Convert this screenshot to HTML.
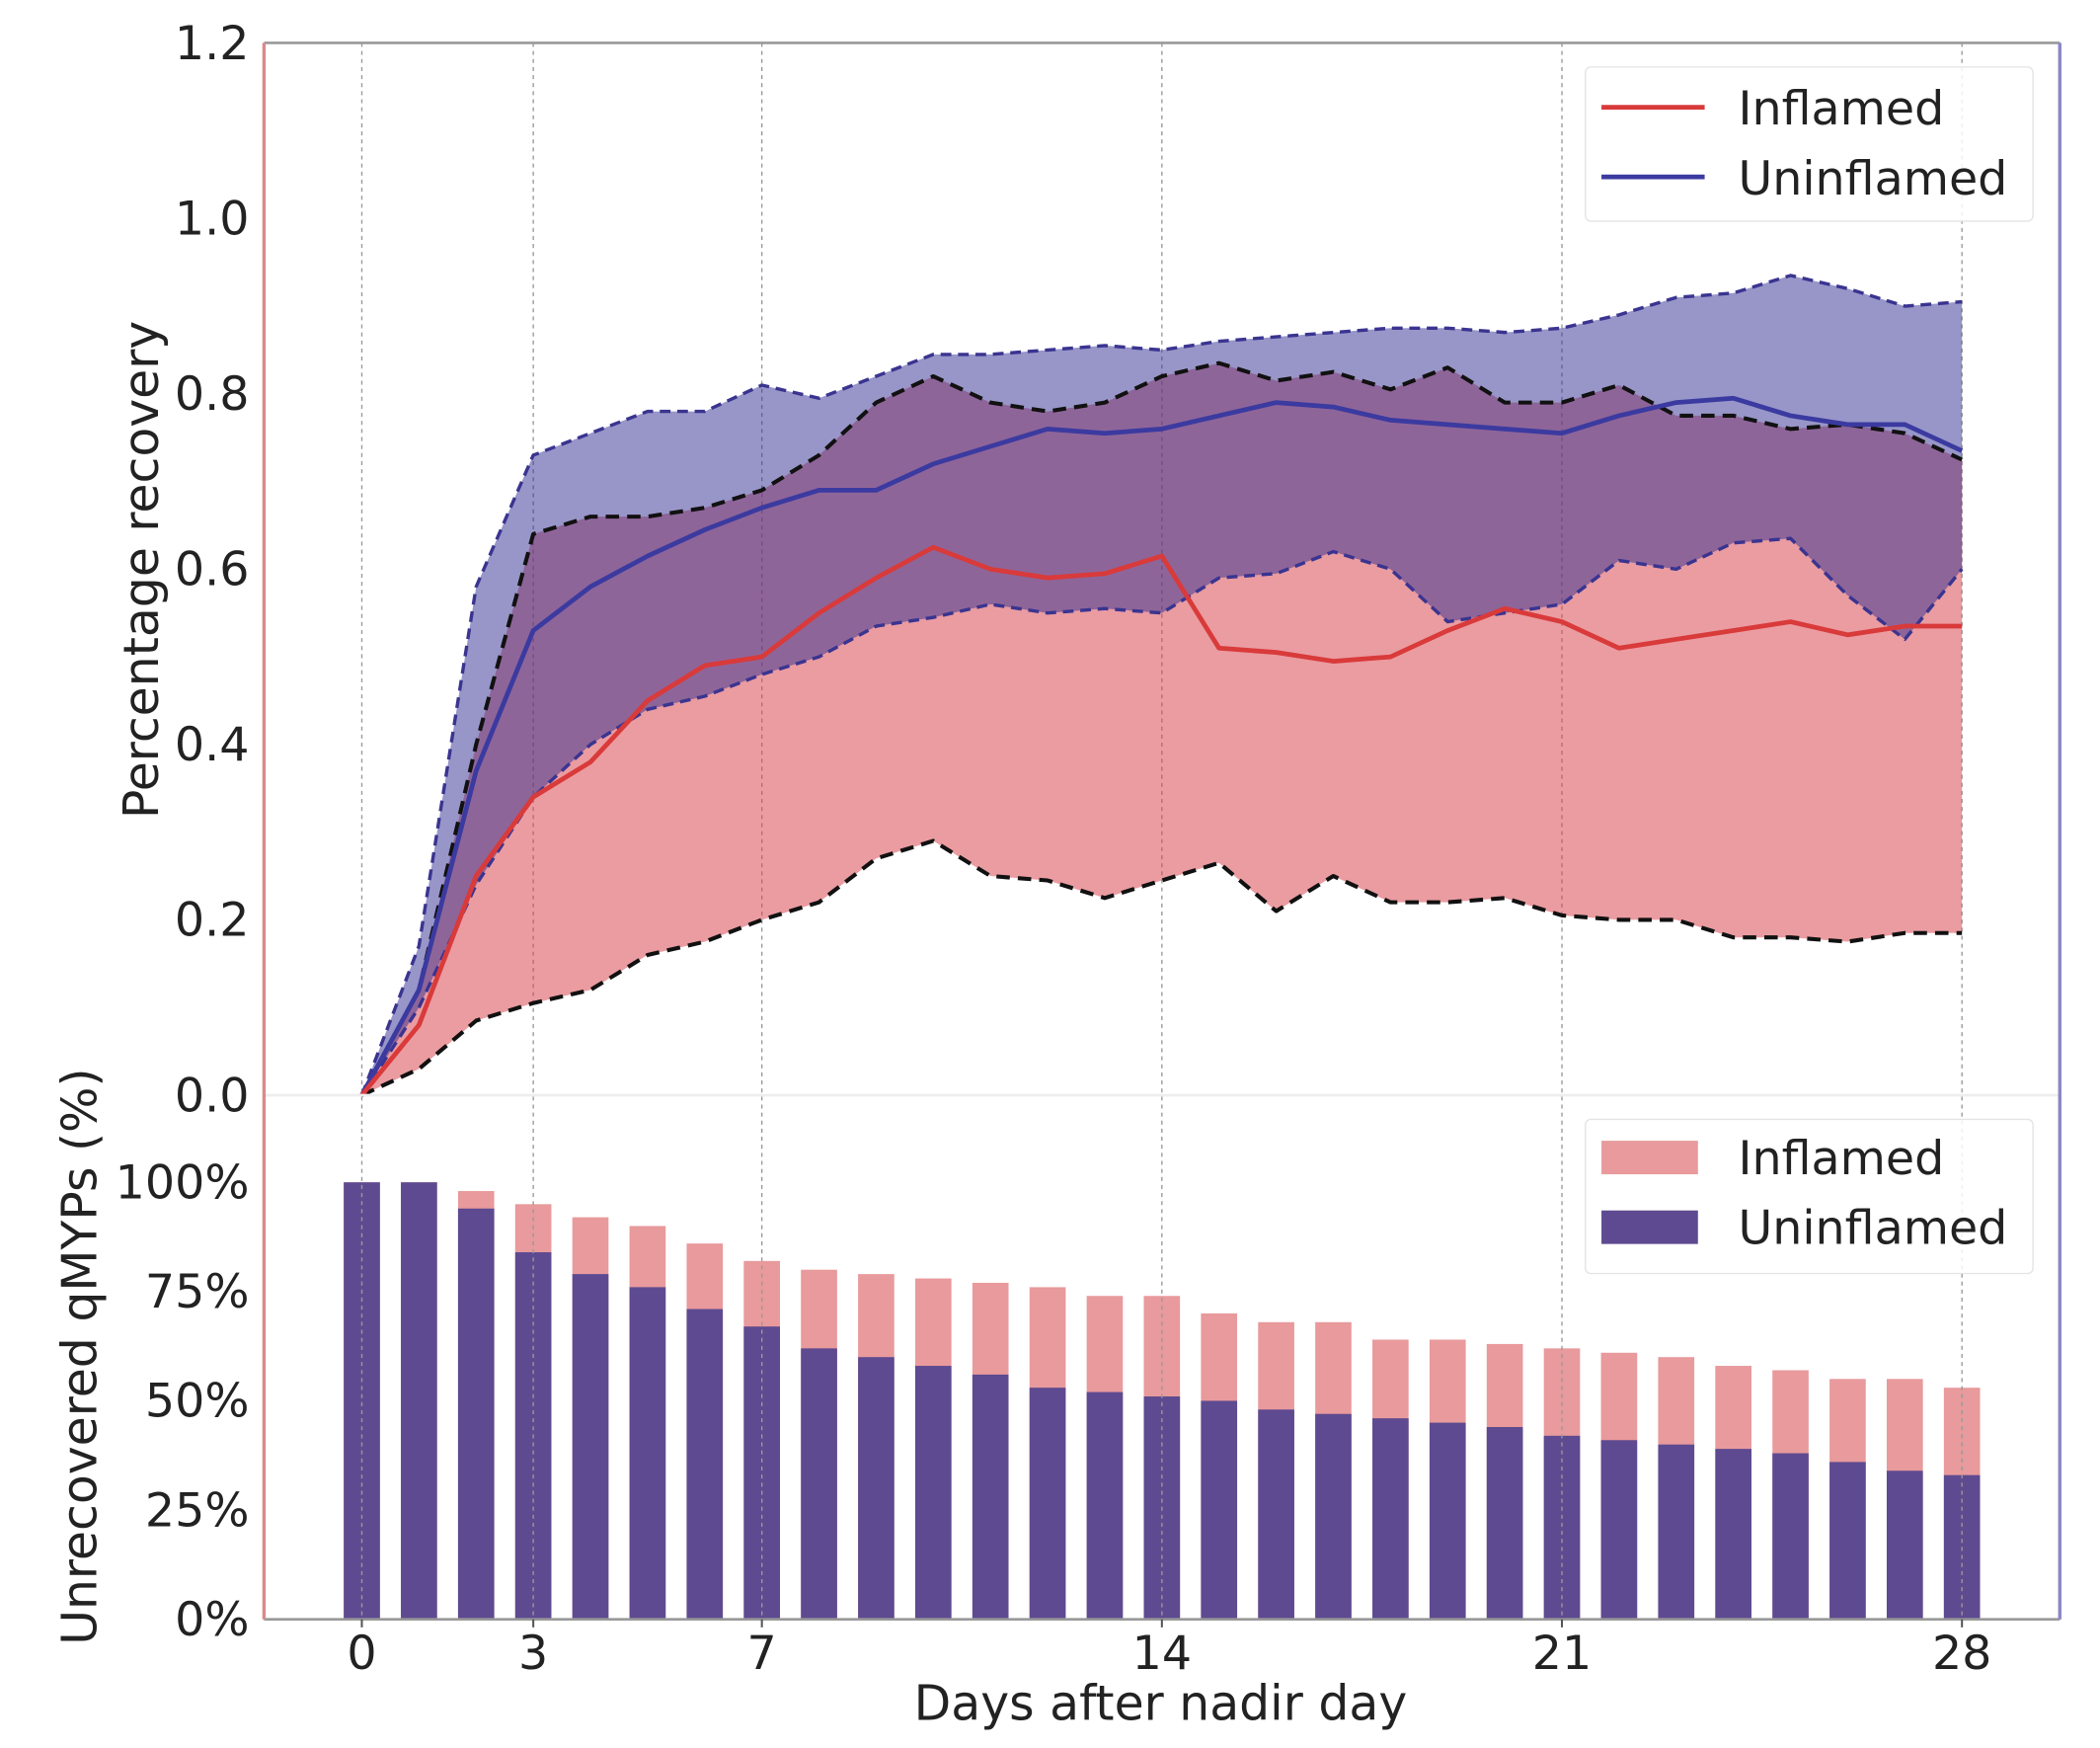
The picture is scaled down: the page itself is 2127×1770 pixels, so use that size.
<!DOCTYPE html>
<html><head><meta charset="utf-8"><style>
html,body{margin:0;padding:0;background:#fff}
svg{display:block;font-family:"DejaVu Sans","Liberation Sans",sans-serif}
</style></head><body>
<svg id="chart" width="2127" height="1770" viewBox="0 0 1567 1304" xmlns="http://www.w3.org/2000/svg">
<g id="g"></g>
</svg>
<script>
const days = [0,1,2,3,4,5,6,7,8,9,10,11,12,13,14,15,16,17,18,19,20,21,22,23,24,25,26,27,28];
const inflMean = [0,0.08,0.25,0.34,0.38,0.45,0.49,0.5,0.55,0.59,0.625,0.6,0.59,0.595,0.615,0.51,0.505,0.495,0.5,0.53,0.555,0.54,0.51,0.52,0.53,0.54,0.525,0.535,0.535];
const inflLow = [0,0.03,0.085,0.105,0.12,0.16,0.175,0.2,0.22,0.27,0.29,0.25,0.245,0.225,0.245,0.265,0.21,0.25,0.22,0.22,0.225,0.205,0.2,0.2,0.18,0.18,0.175,0.185,0.185];
const inflHigh = [0,0.12,0.4,0.64,0.66,0.66,0.67,0.69,0.73,0.79,0.82,0.79,0.78,0.79,0.82,0.835,0.815,0.825,0.805,0.83,0.79,0.79,0.81,0.775,0.775,0.76,0.765,0.755,0.725];
const unMean = [0,0.12,0.37,0.53,0.58,0.615,0.645,0.67,0.69,0.69,0.72,0.74,0.76,0.755,0.76,0.775,0.79,0.785,0.77,0.765,0.76,0.755,0.775,0.79,0.795,0.775,0.765,0.765,0.735];
const unLow = [0,0.1,0.24,0.34,0.4,0.44,0.455,0.48,0.5,0.535,0.545,0.56,0.55,0.555,0.55,0.59,0.595,0.62,0.6,0.54,0.55,0.56,0.61,0.6,0.63,0.635,0.57,0.52,0.6];
const unHigh = [0,0.17,0.58,0.73,0.755,0.78,0.78,0.81,0.795,0.82,0.845,0.845,0.85,0.855,0.85,0.86,0.865,0.87,0.875,0.875,0.87,0.875,0.89,0.91,0.915,0.935,0.92,0.9,0.905];
const barTotal = [100,100,98,95,92,90,86,82,80,79,78,77,76,74,74,70,68,68,64,64,63,62,61,60,58,57,55,55,53];
const barUn = [100,100,94,84,79,76,71,67,62,60,58,56,53,52,51,50,48,47,46,45,44,42,41,40,39,38,36,34,33];
const yTicks = [0,0.2,0.4,0.6,0.8,1.0,1.2];
const yTickLabels = ["0.0","0.2","0.4","0.6","0.8","1.0","1.2"];
const pTicks = [0,25,50,75,100];
const pTickLabels = ["0%","25%","50%","75%","100%"];
const xTicks = [0,3,7,14,21,28];

const NS="http://www.w3.org/2000/svg";
const g=document.getElementById('g');
function X(d){return 270+d*(1464-270)/28;}
function Y(v){return 817-v*654;}
function P(p){return 1208-p*3.26;}
function el(tag,attrs,parent){const e=document.createElementNS(NS,tag);for(const k in attrs)e.setAttribute(k,attrs[k]);(parent||g).appendChild(e);return e;}
function pts(arr){return arr.map((v,i)=>X(days[i]).toFixed(1)+','+Y(v).toFixed(1)).join(' ');}

barTotal.forEach((v,i)=>{
  const r=el('rect',{x:X(days[i])-13.5,y:P(v),width:27,height:P(0)-P(v),fill:'#e89a9c'});
  
  
});
barUn.forEach((v,i)=>{
  const r=el('rect',{x:X(days[i])-13.5,y:P(v),width:27,height:P(0)-P(v),fill:'#5e4a90'});
  
  
});

xTicks.forEach(d=>{
  const l=el('line',{x1:X(d),x2:X(d),y1:32,y2:1208,stroke:'#999','stroke-width':1,'stroke-dasharray':'3,3'});
  
  
});

function band(lo,hi,fill,name){
  const p=pts(hi)+' '+lo.map((v,i)=>[X(days[i]).toFixed(1),Y(v).toFixed(1)].join(',')).reverse().join(' ');
  const e=el('polygon',{points:p,fill:fill});
  
  
}
band(inflLow,inflHigh,'rgba(215,65,75,0.52)','inflamed-band');
band(unLow,unHigh,'rgba(50,45,145,0.5)','uninflamed-band');

function line(arr,stroke,w,dash,name){
  const a={points:pts(arr),fill:'none',stroke:stroke,'stroke-width':w,'stroke-linejoin':'round'};
  if(dash)a['stroke-dasharray']=dash;
  const e=el('polyline',a);
  
  
}
line(unHigh,'#3a3490',2.5,'8,5','uninflamed-upper-bound');
line(unLow,'#3a3490',2.5,'8,5','uninflamed-lower-bound');
line(inflHigh,'#111',3,'10,6','inflamed-upper-bound');
line(inflLow,'#111',3,'10,6','inflamed-lower-bound');
line(unMean,'#3b3aa0',3.5,null,'uninflamed-mean-line');
line(inflMean,'#d93a3a',3.5,null,'inflamed-mean-line');

el('line',{x1:197,x2:1537,y1:32,y2:32,stroke:'#999','stroke-width':2});
el('line',{x1:197,x2:1537,y1:817,y2:817,stroke:'#eee','stroke-width':2});
el('line',{x1:197,x2:1537,y1:1208,y2:1208,stroke:'#999','stroke-width':2});
el('line',{x1:197,x2:197,y1:32,y2:1208,stroke:'#d98a8a','stroke-width':2.5});
el('line',{x1:1537,x2:1537,y1:32,y2:1208,stroke:'#8b86c4','stroke-width':2.5});

const fs=35;
yTicks.forEach((v,i)=>{
  const t=el('text',{x:186,y:Y(v)+12,'text-anchor':'end','font-size':fs,fill:'#222'});
  t.textContent=yTickLabels[i];
  
  
});
pTicks.forEach((v,i)=>{
  const t=el('text',{x:186,y:P(v)+12,'text-anchor':'end','font-size':fs,fill:'#222'});
  t.textContent=pTickLabels[i];
  
  
});
xTicks.forEach(d=>{
  el('line',{x1:X(d),x2:X(d),y1:1208,y2:1214,stroke:'#555','stroke-width':1.5});
  const t=el('text',{x:X(d),y:1245,'text-anchor':'middle','font-size':fs,fill:'#222'});
  t.textContent=d;
  
  
});
</script>
<svg x="0" y="0" width="2127" height="1770" viewBox="0 0 1567 1304" style="position:absolute;left:0;top:0">
<text x="866" y="1283" text-anchor="middle" font-size="36" fill="#222" font-family="DejaVu Sans, Liberation Sans, sans-serif">Days after nadir day</text>
<text transform="translate(118,425) rotate(-90)" text-anchor="middle" font-size="36" fill="#222" font-family="DejaVu Sans, Liberation Sans, sans-serif">Percentage recovery</text>
<text transform="translate(72,1012) rotate(-90)" text-anchor="middle" font-size="36" fill="#222" font-family="DejaVu Sans, Liberation Sans, sans-serif">Unrecovered qMYPs (%)</text>
<g font-family="DejaVu Sans, Liberation Sans, sans-serif" font-size="35" fill="#222">
<rect x="1183" y="50" width="334" height="115" rx="4" fill="#fff" fill-opacity="0.85" stroke="#e4e4e4"/>
<line x1="1195" x2="1272" y1="80" y2="80" stroke="#d93a3a" stroke-width="3.5"/>
<text x="1297" y="93">Inflamed</text>
<line x1="1195" x2="1272" y1="132" y2="132" stroke="#3b3aa0" stroke-width="3.5"/>
<text x="1297" y="145">Uninflamed</text>
</g>
<g font-family="DejaVu Sans, Liberation Sans, sans-serif" font-size="35" fill="#222">
<rect x="1183" y="835" width="334" height="115" rx="4" fill="#fff" fill-opacity="0.85" stroke="#e4e4e4"/>
<rect x="1195" y="851" width="72" height="25" fill="#e89a9c"/>
<text x="1297" y="876">Inflamed</text>
<rect x="1195" y="903" width="72" height="25" fill="#5e4a90"/>
<text x="1297" y="928">Uninflamed</text>
</g>
</svg>
</body></html>
